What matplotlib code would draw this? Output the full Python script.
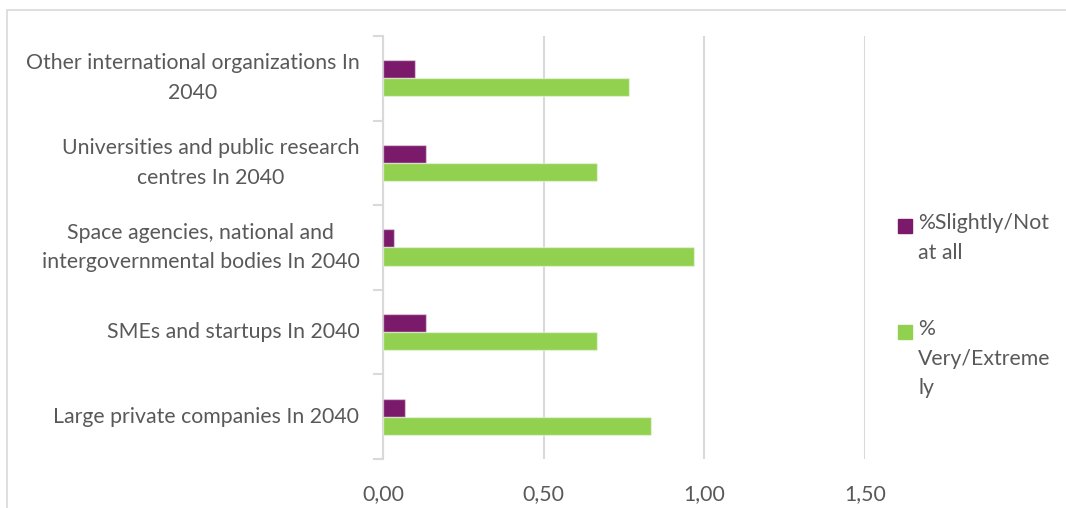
import numpy as np
import matplotlib
matplotlib.use("Agg")
import matplotlib.pyplot as plt
from matplotlib.patches import Rectangle

# Category labels, bottom to top
categories = [
    "Large private companies In 2040",
    "SMEs and startups In 2040",
    "Space agencies, national and\nintergovernmental bodies In 2040",
    "Universities and public research\ncentres In 2040",
    "Other international organizations In\n2040",
]
slightly_not = [0.067, 0.133, 0.033, 0.133, 0.100]
very_extreme = [0.833, 0.667, 0.967, 0.667, 0.767]

series_labels = ["%Slightly/Not\nat all", "%\nVery/Extreme\nly"]
series_colors = ["#7B1A6A", "#92D050"]
x_ticks = [0.0, 0.5, 1.0, 1.5]
x_ticklabels = ["0,00", "0,50", "1,00", "1,50"]

text_color = "#595959"
grid_color = "#D9D9D9"
fs = 15.3
plt.rcParams["font.family"] = ["Lato", "DejaVu Sans"]

W, H = 1066, 508
fig = plt.figure(figsize=(W / 100, H / 100), dpi=100)
ax = fig.add_axes([383 / W, 1 - 459 / H, (865 - 383) / W, (459 - 36) / H])

y = np.arange(len(categories))
bh = 0.213
ax.barh(y + bh / 2, slightly_not, height=bh, color=series_colors[0],
        edgecolor=(1, 1, 1, 0.45), linewidth=1.0, zorder=3)
ax.barh(y - bh / 2, very_extreme, height=bh, color=series_colors[1],
        edgecolor=(1, 1, 1, 0.45), linewidth=1.0, zorder=3)

ax.set_xlim(0, 1.5)
ax.set_ylim(-0.5, len(categories) - 0.5)

# x axis: gridlines only, comma decimals
ax.set_xticks(x_ticks)
ax.set_xticklabels(x_ticklabels, fontsize=fs, color=text_color)
ax.tick_params(axis="x", length=0, pad=18)
ax.xaxis.grid(True, color=grid_color, linewidth=1.5, zorder=0)

# y axis: labels centered on categories, tick marks at boundaries
ax.set_yticks(y)
ax.set_yticklabels(categories, fontsize=fs, color=text_color,
                   multialignment="center", linespacing=1.6, va="center")
ax.tick_params(axis="y", which="major", length=0, pad=17)
ax.set_yticks(np.arange(-0.5, len(categories)), minor=True)
ax.tick_params(axis="y", which="minor", length=7, width=1.5, color=grid_color)

for side in ["top", "right", "bottom"]:
    ax.spines[side].set_visible(False)
ax.spines["left"].set_color(grid_color)
ax.spines["left"].set_linewidth(1.5)

# legend on the right
legend_rows = [(219, series_labels[0], series_colors[0]),
               (325, series_labels[1], series_colors[1])]
for top, label, color in legend_rows:
    fig.patches.append(Rectangle((898 / W, 1 - (top + 14) / H), 14 / W, 14 / H,
                                 transform=fig.transFigure, color=color))
    fig.text(918 / W, 1 - (top - 6) / H, label, fontsize=fs, color=text_color,
             va="top", ha="left", linespacing=1.6)

# chart area border
fig.patches.append(Rectangle((7 / W, -0.02), 1.1, 1 - 10 / H + 0.02,
                             transform=fig.transFigure, fill=False,
                             edgecolor=grid_color, linewidth=1.2))

fig.savefig("out.png", dpi=100)
